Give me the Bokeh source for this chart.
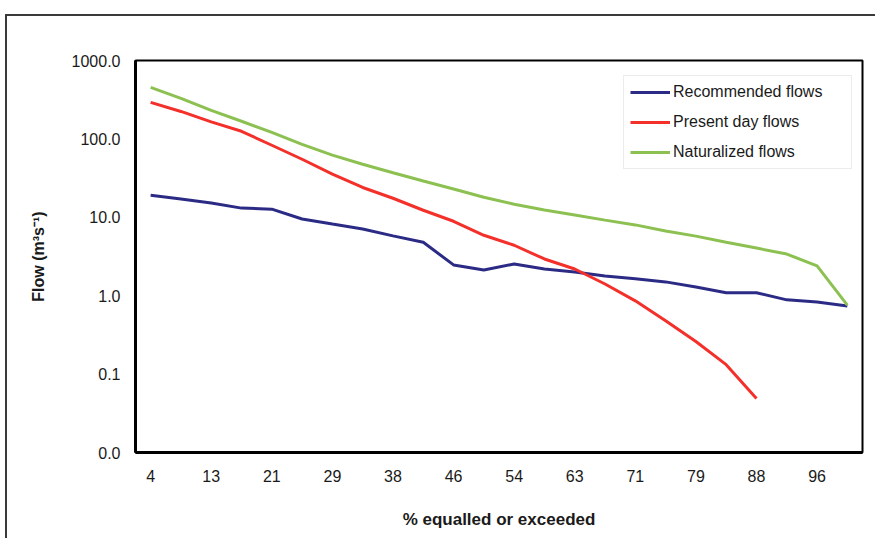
from bokeh.plotting import figure
from bokeh.models import Range1d, FixedTicker, PrintfTickFormatter, Legend, LegendItem, CustomJSTickFormatter
from bokeh.embed import file_html
from bokeh.resources import INLINE

# ---- data ----
pct = ["4", "8", "13", "17", "21", "25", "29", "33", "38", "42", "46", "50",
       "54", "58", "63", "67", "71", "75", "79", "83", "88", "92", "96", "100"]
shown_labels = ["4", "13", "21", "29", "38", "46", "54", "63", "71", "79", "88", "96"]

recommended = [19.1, 17.1, 15.2, 13.1, 12.7, 9.5, 8.2, 7.1, 5.8, 4.8, 2.47, 2.13,
               2.54, 2.19, 2.0, 1.78, 1.64, 1.5, 1.29, 1.09, 1.09, 0.885, 0.83, 0.74]
present_day = [292, 224, 165, 125, 83, 55, 35.5, 24, 17.5, 12.3, 8.9, 5.9,
               4.4, 2.94, 2.19, 1.41, 0.86, 0.48, 0.26, 0.132, 0.049]
naturalized = [453, 329, 231, 168, 121, 85, 62, 47.5, 37, 29, 23, 18,
               14.7, 12.4, 10.7, 9.2, 8.0, 6.7, 5.75, 4.8, 4.05, 3.4, 2.4, 0.76]
y_ticks = [0.01, 0.1, 1, 10, 100, 1000]

FONT = "Liberation Sans"
TXT = "#1a1a1a"

# category positions (index of each category on the axis)
xi = list(range(len(pct)))

p = figure(width=870, height=524,
           x_range=Range1d(-0.5, len(pct) - 0.5),
           y_axis_type="log", y_range=Range1d(0.01, 1000),
           output_backend="svg", toolbar_location=None,
           min_border_left=128, min_border_right=15,
           min_border_top=44, min_border_bottom=88)

p.styles = {"margin-left": "5px", "margin-top": "14px",
            "border-left": "2px solid #3a3a3a", "border-top": "2px solid #3a3a3a"}

p.background_fill_color = "white"
p.border_fill_color = "white"
p.outline_line_color = "black"
p.outline_line_width = 2
p.xgrid.visible = False
p.ygrid.visible = False

r_rec = p.line(xi, recommended, line_color="#2B2B86", line_width=3)
r_pre = p.line(xi[:len(present_day)], present_day, line_color="#F4302B", line_width=3)
r_nat = p.line(xi, naturalized, line_color="#8CC152", line_width=3)

# axes
for ax in (p.xaxis[0], p.yaxis[0]):
    ax.axis_line_color = "black"
    ax.axis_line_width = 3
    ax.major_tick_line_color = None
    ax.minor_tick_line_color = None
    ax.major_tick_in = 0
    ax.major_tick_out = 0
    ax.major_label_text_font = FONT
    ax.major_label_text_font_size = "16px"
    ax.major_label_text_color = TXT
    ax.axis_label_text_font = FONT
    ax.axis_label_text_font_style = "bold"
    ax.axis_label_text_color = TXT

p.yaxis.ticker = FixedTicker(ticks=y_ticks, minor_ticks=[])
p.yaxis.formatter = PrintfTickFormatter(format="%.1f")
p.yaxis.major_label_standoff = 15
p.yaxis.axis_label = "Flow (m³s⁻¹)"
p.yaxis.axis_label_text_font_size = "16px"
p.yaxis.axis_label_standoff = 22

p.xaxis.ticker = FixedTicker(ticks=[pct.index(s) for s in shown_labels], minor_ticks=[])
p.xaxis.formatter = CustomJSTickFormatter(args=dict(labels=pct),
                                          code="return labels[Math.round(tick)];")
p.xaxis.major_label_standoff = 17
p.xaxis.axis_label = "% equalled or exceeded"
p.xaxis.axis_label_text_font_size = "17px"
p.xaxis.axis_label_standoff = 25

legend = Legend(items=[LegendItem(label="Recommended flows", renderers=[r_rec]),
                       LegendItem(label="Present day flows", renderers=[r_pre]),
                       LegendItem(label="Naturalized flows", renderers=[r_nat])],
                location=(488, 283))
legend.border_line_color = "#d9d9d9"
legend.border_line_width = 1
legend.background_fill_color = "white"
legend.background_fill_alpha = 1
legend.padding = 6
legend.margin = 0
legend.spacing = 10
legend.glyph_width = 40
legend.glyph_height = 20
legend.label_height = 20
legend.label_width = 172
legend.label_standoff = 3
legend.label_text_font = FONT
legend.label_text_font_size = "16px"
legend.label_text_color = TXT
p.add_layout(legend)

open("out.html", "w").write(file_html(p, INLINE))
